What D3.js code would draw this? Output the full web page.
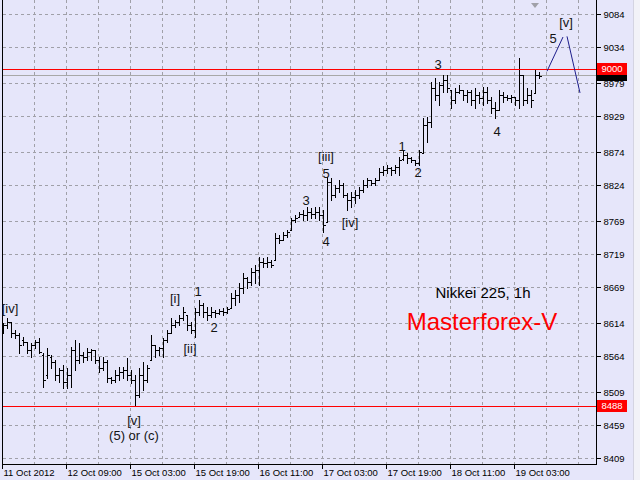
<!DOCTYPE html>
<html><head><meta charset="utf-8">
<script src="https://cdn.jsdelivr.net/npm/d3@7"></script>
<style>html,body{margin:0;padding:0;background:#E6E6FA;}svg{display:block;}</style>
</head><body><svg id="c" width="640" height="480"></svg>
<script>
// ---------- data ----------
const high = [8614,8622,8616,8604,8599,8593,8585,8584,8588,8591,
8569,8576,8566,8558,8546,8550,8546,8578,8588,8584,
8570,8576,8575,8573,8563,8563,8558,8532,8543,8547,
8547,8561,8543,8535,8546,8555,8550,8596,8581,8578,
8591,8604,8622,8619,8626,8639,8626,8616,8637,8649,
8645,8639,8639,8634,8636,8637,8639,8660,8664,8675,
8690,8684,8698,8702,8715,8713,8715,8710,8751,8748,
8753,8756,8774,8778,8783,8786,8791,8789,8791,8791,
8786,8836,8835,8824,8832,8827,8812,8813,8816,8821,
8832,8835,8832,8835,8850,8853,8854,8851,8854,8867,
8877,8873,8867,8862,8877,8926,8927,8981,8987,8981,
8991,8991,8968,8971,8976,8968,8968,8968,8971,8965,
8973,8973,8958,8950,8968,8965,8961,8961,8958,9017,
8991,8971,8968,8999,8996];
const low = [8599,8607,8593,8591,8569,8581,8569,8563,8576,8569,
8517,8531,8546,8528,8525,8515,8515,8517,8543,8553,
8555,8558,8558,8553,8540,8543,8525,8523,8525,8528,
8531,8528,8523,8488,8502,8512,8525,8558,8563,8566,
8563,8585,8599,8608,8611,8619,8604,8599,8593,8626,
8623,8619,8623,8623,8628,8626,8629,8637,8642,8646,
8660,8667,8672,8675,8672,8699,8699,8699,8710,8736,
8740,8745,8756,8768,8775,8771,8771,8774,8774,8771,
8753,8768,8801,8806,8813,8806,8786,8791,8797,8804,
8813,8821,8824,8824,8832,8839,8842,8839,8842,8839,
8862,8857,8859,8854,8854,8872,8889,8912,8953,8946,
8965,8965,8941,8949,8964,8953,8950,8946,8941,8949,
8946,8949,8933,8926,8938,8950,8953,8950,8946,8941,
8946,8949,8943,8964,8986];
const open = [8604,8611,8616,8599,8596,8588,8585,8573,8581,8585,
8566,8535,8563,8555,8535,8543,8525,8535,8573,8558,
8566,8563,8570,8573,8558,8546,8555,8531,8528,8535,
8540,8543,8535,8528,8505,8535,8528,8558,8581,8573,
8576,8588,8599,8611,8616,8622,8626,8611,8604,8631,
8642,8631,8626,8631,8629,8632,8631,8637,8652,8657,
8667,8683,8677,8692,8695,8707,8705,8707,8710,8743,
8740,8748,8756,8771,8775,8780,8778,8783,8780,8783,
8778,8768,8829,8809,8819,8824,8809,8801,8806,8809,
8816,8824,8832,8827,8832,8844,8847,8850,8847,8851,
8864,8870,8865,8862,8857,8872,8915,8920,8971,8961,
8976,8984,8968,8953,8965,8968,8961,8965,8953,8961,
8956,8965,8953,8941,8938,8961,8958,8956,8958,8953,
8991,8953,8961,8964,8991];
const close = [8611,8616,8599,8596,8581,8585,8573,8581,8585,8570,
8528,8566,8555,8535,8543,8525,8535,8573,8558,8566,
8563,8570,8573,8558,8546,8555,8531,8528,8535,8540,
8543,8535,8528,8505,8535,8528,8546,8581,8573,8576,
8588,8599,8611,8616,8622,8631,8611,8604,8631,8642,
8631,8626,8631,8629,8632,8631,8636,8652,8657,8667,
8683,8677,8692,8695,8707,8705,8707,8702,8743,8740,
8748,8753,8771,8774,8780,8778,8783,8780,8783,8778,
8763,8829,8809,8819,8824,8809,8801,8806,8809,8816,
8824,8832,8827,8832,8844,8847,8850,8847,8851,8862,
8870,8865,8862,8857,8874,8915,8920,8971,8961,8976,
8984,8971,8953,8965,8968,8961,8965,8953,8961,8956,
8965,8953,8941,8938,8961,8958,8956,8958,8953,8991,
8953,8961,8953,8991,8990];

const priceTicks = [9084,9034,8979,8929,8874,8824,8769,8719,8669,8614,8564,8509,8459,8409];
const timeTickIndex = [0,16,32,48,64,80,96,112,128];
const timeTickLabels = ["11 Oct 2012","12 Oct 09:00","15 Oct 03:00","15 Oct 19:00","16 Oct 11:00","17 Oct 03:00","17 Oct 19:00","18 Oct 11:00","19 Oct 03:00"];

const redLevels = [9000, 8488];
const bidPrice = 8991;
const projection1 = [{i:136, p:8997},{i:140, p:9049}];
const projection2 = [{i:141, p:9050},{i:144.25, p:8964}];

const waveLabels = [
 {i:1.75,  p:8637, t:"[iv]"},
 {i:32.75, p:8467, t:"[v]"},
 {i:32.75, p:8444, t:"(5) or (c)"},
 {i:43,    p:8652, t:"[i]"},
 {i:48.75, p:8663, t:"1"},
 {i:46.75, p:8575, t:"[ii]"},
 {i:52.75, p:8608, t:"2"},
 {i:75.75, p:8801, t:"3"},
 {i:80.75, p:8739, t:"4"},
 {i:80.75, p:8842, t:"5"},
 {i:80.75, p:8867, t:"[iii]"},
 {i:86.75, p:8768, t:"[iv]"},
 {i:99.75, p:8883, t:"1"},
 {i:103.75,p:8844, t:"2"},
 {i:108.75,p:9008, t:"3"},
 {i:123.5, p:8905, t:"4"},
 {i:137.5, p:9047, t:"5"},
 {i:140.75,p:9072, t:"[v]"}
];
const titleText = "Nikkei 225, 1h";
const brandText = "Masterforex-V";

// ---------- layout ----------
const L = 3, R = 596, T = 0, B = 464;
const svg = d3.select("#c");
const n = high.length;
const x = d3.scaleLinear().domain([0, 148.25]).range([L, R]);
const y = d3.scaleLinear().domain([8409, 9084]).range([458, 14]);
const px = v => Math.round(x(v)) + 0.5;
const py = v => Math.round(y(v)) + 0.5;
const font = "'Liberation Sans', Arial, sans-serif";

svg.append("rect").attr("width",640).attr("height",480).attr("fill","#E6E6FA");
svg.append("rect").attr("x",634).attr("y",0).attr("width",6).attr("height",480).attr("fill","#F2F2F8");
svg.append("line").attr("x1",633.5).attr("x2",633.5).attr("y1",0).attr("y2",480).attr("stroke","#D4D4E2");

const g = svg.append("g").attr("shape-rendering","crispEdges");

// grid
g.append("g").selectAll("line").data(priceTicks).join("line")
  .attr("x1",L).attr("x2",R).attr("y1",d=>py(d)).attr("y2",d=>py(d))
  .attr("stroke","#A0A0A8").attr("stroke-dasharray","3,3");
const vgrid = d3.range(8, 149, 8);
g.append("g").selectAll("line").data(vgrid).join("line")
  .attr("x1",d=>px(d)-1).attr("x2",d=>px(d)-1).attr("y1",T).attr("y2",B)
  .attr("stroke","#A0A0A8").attr("stroke-dasharray","3,3");

// bid line
g.append("rect").attr("x",L).attr("width",R-L).attr("y",Math.round(y(bidPrice))).attr("height",1).attr("fill","#A8A8A8");

// bars
const idx = d3.range(n);
const bars = g.append("g").attr("stroke","#000").attr("stroke-width",1);
bars.append("g").selectAll("line").data(idx).join("line")
  .attr("x1",i=>px(i)).attr("x2",i=>px(i))
  .attr("y1",i=>Math.round(y(high[i]))).attr("y2",i=>Math.round(y(low[i]))+1);
bars.append("g").selectAll("line").data(idx).join("line")
  .attr("x1",i=>px(i)-2).attr("x2",i=>px(i))
  .attr("y1",i=>py(open[i])).attr("y2",i=>py(open[i]));
bars.append("g").selectAll("line").data(idx).join("line")
  .attr("x1",i=>px(i)).attr("x2",i=>px(i)+2.5)
  .attr("y1",i=>py(close[i])).attr("y2",i=>py(close[i]));

// red level lines (drawn as 1px rects)
g.append("g").selectAll("rect").data(redLevels).join("rect")
  .attr("x",L).attr("width",R-L).attr("y",d=>Math.round(y(d))).attr("height",1)
  .attr("fill","#FF0000");

// projection lines
const ln = d3.line().x(d=>x(d.i)).y(d=>y(d.p));
[projection1, projection2].forEach(seg=>{
  svg.append("path").attr("d",ln(seg)).attr("fill","none").attr("stroke","#1E1E8C").attr("stroke-width",1);
});

// shift marker triangle
const tx = x(133);
svg.append("path").attr("d",`M${tx-4},3 L${tx+4},3 L${tx},8 Z`).attr("fill","#A0A0A8");

// frame
svg.append("path").attr("d",`M2.5,0 V${B+0.5} H${R+0.5} V0`).attr("fill","none").attr("stroke","#000").attr("shape-rendering","crispEdges");

// y axis (right)
const yAxis = d3.axisRight(y).tickValues(priceTicks).tickSize(4).tickPadding(3).tickFormat(d3.format("d"));
const ya = svg.append("g").attr("transform",`translate(${R+0.5},0)`).call(yAxis);
ya.select(".domain").remove();
ya.selectAll(".tick").attr("transform", d=>`translate(0,${py(d)})`);
ya.selectAll("text").attr("font-family",font).attr("font-size","9.5px").attr("fill","#000");
ya.selectAll("line").attr("stroke","#000").attr("shape-rendering","crispEdges");

// x axis (bottom)
const xAxis = d3.axisBottom(x).tickValues(timeTickIndex).tickSize(4).tickFormat((d,k)=>timeTickLabels[k]);
const xa = svg.append("g").attr("transform",`translate(0,${B+0.5})`).call(xAxis);
xa.select(".domain").remove();
xa.selectAll(".tick").attr("transform", d=>`translate(${px(d)-1},0)`);
xa.selectAll("line").attr("stroke","#000").attr("shape-rendering","crispEdges");
xa.selectAll("text").attr("font-family",font).attr("font-size","9.5px").attr("fill","#000")
  .attr("text-anchor","start").attr("x",1).attr("y",5).attr("dy","0.71em");

// price boxes
function priceBox(v, fill, label){
  const yy = Math.round(y(v));
  svg.append("rect").attr("x",597).attr("y",yy-6).attr("width",30).attr("height",12).attr("fill",fill).attr("shape-rendering","crispEdges");
  if (label) svg.append("text").attr("x",612).attr("y",yy).attr("dy","0.35em").attr("text-anchor","middle")
    .attr("font-family",font).attr("font-size","9.5px").attr("fill","#fff").text(label);
}
priceBox(bidPrice+1, "#000", null);
priceBox(redLevels[0], "#FF0000", String(redLevels[0]));
priceBox(redLevels[1], "#FF0000", String(redLevels[1]));

// wave labels
svg.append("g").selectAll("text").data(waveLabels).join("text")
  .attr("x",d=>x(d.i)).attr("y",d=>y(d.p)).attr("dy","0.36em").attr("text-anchor","middle")
  .attr("font-family",font).attr("font-size","13px").attr("fill","#141414").text(d=>d.t);

// titles
svg.append("text").attr("x",483).attr("y",293).attr("dy","0.36em").attr("text-anchor","middle")
  .attr("font-family",font).attr("font-size","15px").attr("fill","#000").text(titleText);
svg.append("text").attr("x",482).attr("y",321).attr("dy","0.36em").attr("text-anchor","middle")
  .attr("font-family",font).attr("font-size","24px").attr("fill","#FF0000").text(brandText);
</script></body></html>
